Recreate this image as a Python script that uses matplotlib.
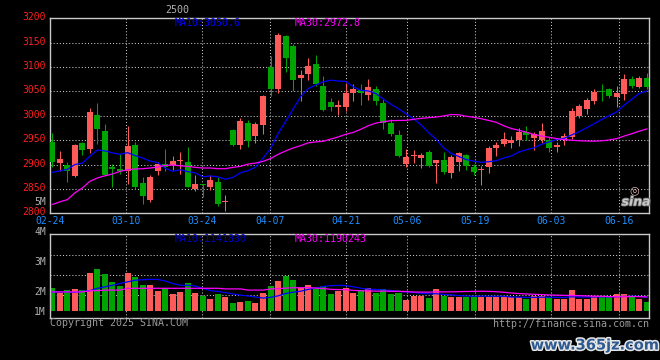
import numpy as np
import pandas as pd
import matplotlib
matplotlib.use("Agg")
import matplotlib.pyplot as plt
import matplotlib.patheffects as pe
import matplotlib.transforms as mtransforms

# ---------------- data ----------------
opens = [2946.6, 2904.0, 2899.0, 2877.0, 2944.5, 2931.0, 3001.7, 2969.0, 2895.0, 2891.0,
         2886.0, 2940.0, 2863.0, 2828.0, 2886.0, 2901.0, 2899.6, 2906.5, 2905.8, 2849.0,
         2860.9, 2853.0, 2863.6, 2822.8, 2971.0, 2940.0, 2985.0, 2958.9, 2981.0, 3099.7,
         3054.8, 3163.0, 3142.5, 3077.9, 3085.4, 3105.8, 3060.9, 3028.0, 3018.7, 3019.0,
         3046.6, 3052.7, 3042.5, 3054.8, 3026.0, 2985.0, 2960.9, 2901.7, 2917.0, 2914.0,
         2926.0, 2903.7, 2909.9, 2883.0, 2905.8, 2920.0, 2895.6, 2889.5, 2895.6, 2934.4,
         2942.5, 2944.5, 2950.7, 2967.0, 2954.8, 2950.7, 2950.7, 2936.4, 2950.7, 2956.8,
         2999.7, 3013.9, 3030.3, 3050.7, 3054.8, 3038.5, 3044.5, 3075.2, 3058.9, 3077.2]
closes = [2904.4, 2912.0, 2886.0, 2940.0, 2930.0, 3007.8, 2973.8, 2879.0, 2891.0, 2886.0,
          2938.0, 2853.0, 2836.0, 2875.0, 2902.0, 2894.0, 2907.8, 2909.9, 2853.4, 2861.0,
          2857.5, 2869.0, 2818.7, 2826.0, 2940.0, 2989.5, 2948.6, 2983.0, 3040.5, 3054.8,
          3165.0, 3118.0, 3073.0, 3083.0, 3101.7, 3065.0, 3012.0, 3018.0, 3022.0, 3046.6,
          3054.8, 3046.6, 3058.9, 3030.3, 2985.0, 2962.9, 2918.0, 2916.0, 2920.0, 2920.0,
          2897.6, 2908.5, 2885.4, 2914.6, 2924.0, 2897.6, 2885.4, 2891.5, 2934.4, 2940.5,
          2952.7, 2950.7, 2967.0, 2960.9, 2963.0, 2969.0, 2934.4, 2940.5, 2958.8, 3009.9,
          3020.0, 3032.3, 3048.7, 3048.7, 3040.5, 3046.6, 3075.2, 3060.9, 3077.2, 3058.9]
highs = [2965.0, 2928.0, 2906.0, 2943.0, 2947.0, 3016.0, 3026.0, 2983.0, 2901.0, 2921.0,
         2979.0, 2946.0, 2874.5, 2879.0, 2905.0, 2931.0, 2918.0, 2925.0, 2936.0, 2879.0,
         2861.0, 2879.0, 2874.5, 2838.5, 2972.0, 2995.0, 2991.0, 2987.0, 3042.5, 3122.0,
         3169.0, 3165.0, 3148.0, 3093.5, 3118.0, 3124.0, 3081.0, 3036.0, 3032.0, 3067.0,
         3065.0, 3065.0, 3075.0, 3061.0, 3034.0, 2993.0, 2971.0, 2932.0, 2930.0, 2923.0,
         2930.0, 2910.0, 2926.0, 2918.7, 2926.0, 2922.0, 2901.7, 2897.6, 2938.5, 2946.6,
         2967.0, 2958.8, 2975.0, 2979.0, 2967.0, 2985.0, 2956.8, 2946.6, 2965.0, 3016.0,
         3024.0, 3036.4, 3054.8, 3065.0, 3056.8, 3060.9, 3085.4, 3081.3, 3081.3, 3087.4]
lows = [2896.0, 2886.0, 2864.0, 2874.0, 2919.0, 2923.0, 2942.5, 2879.0, 2853.0, 2881.0,
        2861.0, 2849.0, 2820.0, 2824.0, 2879.0, 2886.0, 2889.5, 2880.6, 2853.0, 2845.0,
        2833.0, 2847.0, 2814.6, 2804.4, 2938.0, 2932.0, 2937.0, 2945.0, 2963.0, 3040.5,
        3046.6, 3090.0, 3050.7, 3030.0, 3073.0, 3061.0, 3009.9, 3010.0, 3001.7, 3010.0,
        3030.0, 3022.0, 3032.0, 3022.0, 2973.0, 2959.0, 2916.0, 2895.6, 2904.0, 2893.5,
        2895.6, 2862.9, 2881.0, 2873.0, 2887.4, 2889.5, 2879.0, 2858.8, 2883.0, 2918.0,
        2938.0, 2934.4, 2938.5, 2950.7, 2930.0, 2944.5, 2926.0, 2924.8, 2940.5, 2952.7,
        2995.6, 3003.8, 3024.0, 3030.3, 3036.4, 3018.0, 3032.3, 3056.8, 3056.8, 3054.8]
# volume in "M" as read against the chart's volume labels
volumes = [2.09, 1.91, 2.02, 2.06, 2.02, 2.60, 2.72, 2.56, 2.29, 2.16,
           2.60, 2.46, 2.19, 2.19, 1.99, 2.08, 1.89, 1.97, 2.26, 1.92,
           1.83, 1.72, 1.90, 1.78, 1.59, 1.63, 1.66, 1.60, 1.92, 2.16,
           2.32, 2.50, 2.36, 2.09, 2.19, 2.09, 2.17, 1.89, 2.00, 2.08,
           1.93, 2.02, 2.08, 1.93, 2.05, 1.89, 1.91, 1.69, 1.82, 1.82,
           1.76, 2.06, 1.82, 1.80, 1.80, 1.78, 1.78, 1.78, 1.78, 1.78,
           1.78, 1.78, 1.78, 1.72, 1.82, 1.82, 1.78, 1.73, 1.73, 2.02,
           1.73, 1.73, 1.82, 1.78, 1.78, 1.89, 1.89, 1.78, 1.73, 1.62]
# moving-average values before enough history exists in the window
ma10_head = [2884, 2887, 2890, 2900, 2903, 2917, 2930, 2928, 2924]
ma30_head = [2818, 2823.5, 2828, 2841.8, 2852, 2865.6, 2872.5, 2877, 2880.6, 2886,
             2889.5, 2890.8, 2891.5, 2892.9, 2894.9, 2898.3, 2899, 2897.6, 2896.3, 2894.2,
             2892.9, 2892.9, 2891.5, 2891.5, 2894.2, 2896.3, 2901, 2903, 2906.5]
vol_ma10_head = [1.96, 1.96, 1.96, 1.95, 1.98, 2.00, 2.08, 2.13, 2.18]
vol_ma30_head = [1.96, 1.96, 1.96, 1.96, 1.96, 2.00, 2.00, 2.02, 2.02, 2.02,
                 2.08, 2.08, 2.08, 2.08, 2.08, 2.08, 2.08, 2.08, 2.08, 2.08,
                 2.08, 2.08, 2.08, 2.06, 2.06, 2.06, 2.02, 2.02, 2.02]

date_labels = ["02-24", "03-10", "03-24", "04-07", "04-21", "05-06", "05-19", "06-03", "06-16"]
date_index = [0, 10, 20, 29, 39, 47, 56, 66, 75]
price_ticks = [2800, 2850, 2900, 2950, 3000, 3050, 3100, 3150, 3200]
vol_ticks = [5, 4, 3, 2]
vol_tick_labels = ["5M", "4M", "3M", "2M"]
title_text = "2500"
ma_price_labels = ["MA10:3050.6", "MA30:2972.8"]
ma_vol_labels = ["MA10:1141830", "MA30:1190243"]

# ---------------- derived ----------------
o = np.array(opens); c = np.array(closes); h = np.array(highs); l = np.array(lows)
v = np.array(volumes)
n = len(c)
x = np.arange(n)

def moving(vals, window, head):
    s = pd.Series(vals).rolling(window).mean().to_numpy()
    s[:len(head)] = head
    return s

ma10 = moving(c, 10, ma10_head)
ma30 = moving(c, 30, ma30_head)
vma10 = moving(v, 10, vol_ma10_head)
vma30 = moving(v, 30, vol_ma30_head)

RED = "#FF5A5A"
GREEN = "#00A400"
BLUE = "#0000FF"
MAG = "#FF00FF"
GRID = "#C8C8C8"
GRAY = "#B0B0B0"
colors = [RED if cc >= oo else GREEN for oo, cc in zip(o, c)]

W, H = 660, 360
def fx(px): return px / W
def fy(py): return 1 - py / H

fig = plt.figure(figsize=(W / 100, H / 100), dpi=100, facecolor="black")
ax = fig.add_axes([fx(50), fy(213.3), fx(649) - fx(50), fy(18.3) - fy(213.3)], facecolor="black")
axv = fig.add_axes([fx(50), fy(318.3), fx(649) - fx(50), fy(234) - fy(318.3)], facecolor="black", sharex=ax)

xlim = (-0.27, 79.28)
grid_x = np.array(date_index) * 1.0088 - 0.3
dots = (0, (1.0, 2.0))

# ---- price panel ----
ax.set_xlim(*xlim)
ax.set_ylim(2800, 3200)
for yv in price_ticks[1:-1]:
    ax.axhline(yv, color=GRID, lw=0.75, ls=dots, zorder=1)
for gx in grid_x[1:]:
    ax.axvline(gx, color=GRID, lw=0.75, ls=dots, zorder=1)

body_w = 0.8
ax.vlines(x, l, h, colors=colors, lw=0.75, zorder=2)
bottoms = np.minimum(o, c)
heights = np.maximum(np.abs(c - o), 1.2)
ax.bar(x, heights, bottom=bottoms, width=body_w, color=colors, lw=0, zorder=3)
ax.plot(x, ma10, color=BLUE, lw=0.9, zorder=4)
ax.plot(x, ma30, color=MAG, lw=0.9, zorder=4)

ax.set_yticks(price_ticks)
ax.set_yticklabels([str(t) for t in price_ticks], color="#FF1E1E",
                   fontsize=7.0, family="DejaVu Sans Mono")
ax.tick_params(axis="y", length=0, pad=3)
up = mtransforms.ScaledTranslation(0, 2.0 / 100, fig.dpi_scale_trans)
for lab in ax.get_yticklabels():
    lab.set_transform(lab.get_transform() + up)
ax.set_xticks(grid_x)
ax.set_xticklabels(date_labels, color="#1E8FFF", fontsize=7.0, family="DejaVu Sans Mono")
ax.tick_params(axis="x", length=0, pad=2.0)
for sp in ax.spines.values():
    sp.set_color(GRID); sp.set_linewidth(1.0)

# ---- volume panel ----
vbase = 1.333
axv.set_ylim(1.08, 3.89)
for fr in (0.273, 0.51, 0.747):
    axv.plot([0, 1], [fr, fr], transform=axv.transAxes, color=GRID, lw=0.75, ls=dots, zorder=1)
for gx in grid_x[1:]:
    axv.axvline(gx, color=GRID, lw=0.75, ls=dots, zorder=1)
axv.bar(x, v - vbase, bottom=vbase, width=body_w, color=colors, lw=0, zorder=2)
axv.plot(x, vma10, color=BLUE, lw=0.9, zorder=3)
axv.plot(x, vma30, color=MAG, lw=0.9, zorder=3)
axv.set_yticks([])
axv.tick_params(axis="x", length=0, labelbottom=False)
for sp in axv.spines.values():
    sp.set_color(GRID); sp.set_linewidth(1.0)

down = mtransforms.ScaledTranslation(0, -1.0 / 100, fig.dpi_scale_trans)
trans = mtransforms.blended_transform_factory(axv.transAxes, axv.transData) + down
for tv, tl in zip(vol_ticks, vol_tick_labels):
    axv.text(-0.007, tv, tl, transform=trans, ha="right", va="center", color=GRAY,
             fontsize=7.0, family="DejaVu Sans Mono", clip_on=False)
axv.text(-0.007, vbase, "1M", transform=trans, ha="right", va="center", color=GRAY,
         fontsize=7.0, family="DejaVu Sans Mono", clip_on=False)

# ---- texts ----
mono = dict(family="DejaVu Sans Mono", fontsize=7.2, va="center")
fig.text(fx(165), fy(10), title_text, color=GRAY, ha="left", **mono)
fig.text(fx(175), fy(23.5), ma_price_labels[0], color=BLUE, ha="left", **mono)
fig.text(fx(295), fy(23.5), ma_price_labels[1], color=MAG, ha="left", **mono)
fig.text(fx(175), fy(238.5), ma_vol_labels[0], color="#0000D0", ha="left", **mono)
fig.text(fx(295), fy(238.5), ma_vol_labels[1], color=MAG, ha="left", **mono)
fig.text(fx(50), fy(323.5), "Copyright 2025 SINA.COM", color="#9A9A9A", ha="left", **mono)
fig.text(fx(649), fy(324), "http://finance.sina.com.cn", color="#9A9A9A", ha="right", **mono)

fig.text(fx(634), fy(190), "\u25CE", color="#E0B4B4", ha="center", va="center", fontsize=8)
fig.text(fx(636), fy(202), "sina", color="#C8C8C8", ha="center", va="center",
         fontsize=9, fontweight="bold", style="italic",
         path_effects=[pe.withStroke(linewidth=1.2, foreground="#707070")])
fig.text(fx(595), fy(345), "www.365jz.com", color="#2E5A92", ha="center", va="center",
         fontsize=10.5, fontweight="bold",
         path_effects=[pe.withStroke(linewidth=2.2, foreground="#E6E6E6")])

fig.savefig("out.png", dpi=100, facecolor="black")
